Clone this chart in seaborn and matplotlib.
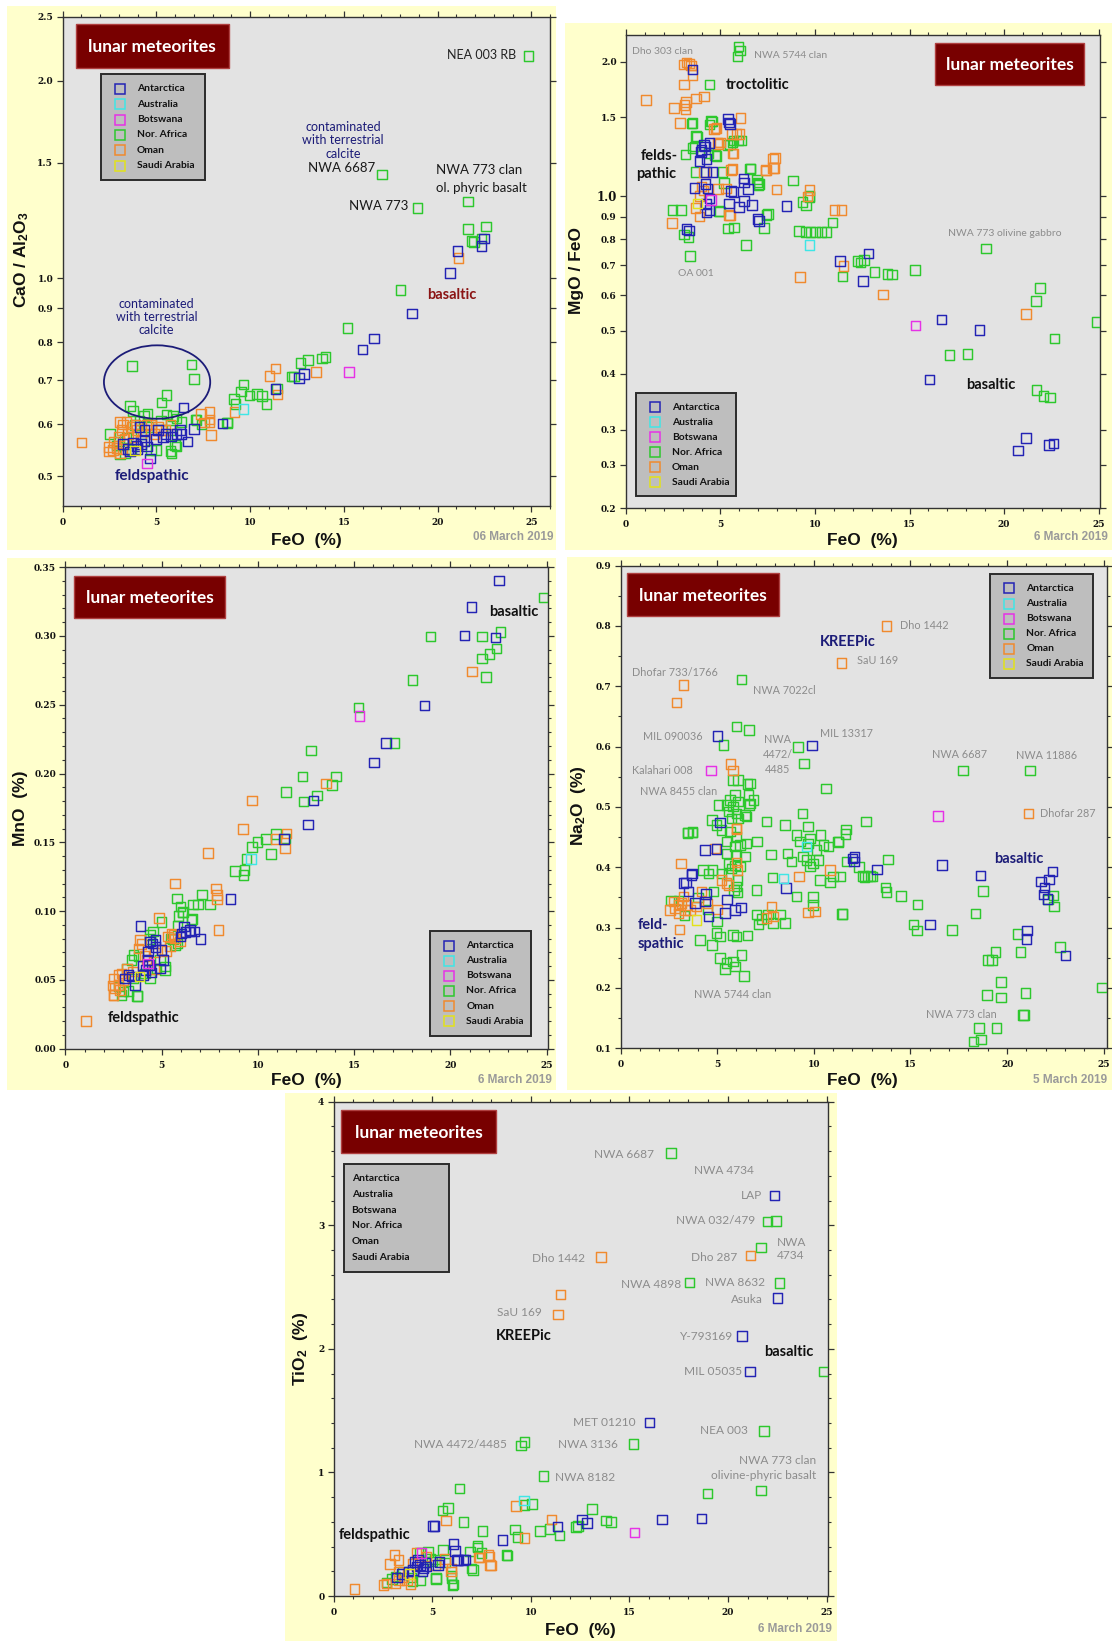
import numpy as np
import pandas as pd
import matplotlib
matplotlib.use("Agg")
import matplotlib.pyplot as plt
import seaborn as sns
from matplotlib.patches import Rectangle, Ellipse
from matplotlib.lines import Line2D
from matplotlib.ticker import MultipleLocator, NullLocator

# ---------------- data (FeO %, value) per panel and region ----------------
REGIONS = ["Antarctica", "Australia", "Botswana", "Nor. Africa", "Oman", "Saudi Arabia"]
COLORS = {"Antarctica": "#2323B4", "Australia": "#3FE6E6", "Botswana": "#E632E6",
          "Nor. Africa": "#2DC82D", "Oman": "#F08A2E", "Saudi Arabia": "#E2E21A"}
DRAW_ORDER = ["Nor. Africa", "Oman", "Antarctica", "Australia", "Botswana", "Saudi Arabia"]

# Panel 1: CaO/Al2O3
P1_ANT = [(22.49,1.15),(22.34,1.12),(21.06,1.10),(20.68,1.02),(18.63,0.885),(16.6,0.81),(16.01,0.78),
          (12.60,0.706),(12.89,0.716),(11.35,0.679),(8.54,0.602),(7.0,0.59),(6.67,0.565),(6.46,0.636),
          (6.26,0.588),(6.08,0.58),(6.35,0.58),(4.66,0.532),(3.24,0.56),(3.5,0.55),(3.94,0.556),(4.2,0.56),
          (4.38,0.566),(5.0,0.57),(5.35,0.574),(5.1,0.588),(4.38,0.588),(4.1,0.594),(3.77,0.563),(3.6,0.545),
          (4.0,0.55),(4.5,0.555),(5.5,0.58),(5.8,0.575)]
P1_AUS = [(9.66,0.633)]
P1_BOT = [(15.29,0.72),(4.52,0.523)]
P1_NAF = [(24.85,2.18),(17.05,1.44),(18.94,1.28),(21.63,1.31),(21.62,1.19),(22.59,1.20),(21.81,1.14),
          (21.96,1.135),(22.34,1.15),(18.02,0.96),(15.21,0.84),(14.03,0.76),(13.84,0.755),(13.08,0.752),
          (12.70,0.743),(12.22,0.709),(12.34,0.709),(9.66,0.69),(9.52,0.673),(9.14,0.655),(9.98,0.664),
          (10.36,0.667),(10.65,0.663),(10.89,0.644),(9.22,0.644),(11.43,0.68),(8.76,0.604),(7.09,0.61),
          (3.71,0.736),(6.88,0.74),(7.0,0.703),(5.55,0.665),(5.27,0.648),(3.59,0.64),(3.77,0.629),(4.54,0.622),
          (4.36,0.618),(5.55,0.621),(5.9,0.618),(6.08,0.612),(8.8,0.603),(7.14,0.609),(7.41,0.60),(5.81,0.588),
          (5.81,0.542),(5.99,0.558),(4.98,0.548),(2.53,0.58),(2.88,0.557),(3.06,0.54),(3.32,0.542),(4.73,0.548),
          (5.75,0.546),(6.08,0.555),(3.68,0.548),(3.41,0.572),(4.1,0.608),(3.85,0.598),(4.56,0.594),(5.26,0.608),
          (6.35,0.605),(4.2,0.58),(3.0,0.565)]
P1_OMA = [(21.12,1.075),(11.35,0.73),(11.03,0.71),(13.52,0.72),(11.46,0.666),(9.18,0.626),(7.93,0.578),
          (7.83,0.626),(7.83,0.604),(7.55,0.604),(7.38,0.622),(7.85,0.61),(1.02,0.563),(2.49,0.545),(2.49,0.554),
          (2.71,0.564),(3.15,0.588),(3.24,0.599),(3.06,0.605),(3.41,0.605),(3.94,0.588),(4.73,0.588),(5.26,0.588),
          (5.5,0.588),(4.73,0.60),(4.47,0.598),(3.68,0.594),(3.5,0.58),(2.88,0.552),(3.06,0.543),(5.75,0.60),
          (5.1,0.594),(4.2,0.566),(3.77,0.574),(3.3,0.57),(3.0,0.575),(3.9,0.60),(4.9,0.58),(2.7,0.548),(3.2,0.55)]
P1_SAU = [(3.86,0.547)]

# Panel 2: MgO/FeO
P2_ANT = [(3.53,1.919),(5.4,1.49),(5.45,1.46),(5.5,1.45),(4.0,1.27),(4.18,1.29),(4.41,1.315),(4.14,1.301),
          (3.97,1.256),(4.26,1.21),(3.88,1.20),(4.24,1.133),(4.59,1.133),(6.22,1.095),(6.25,1.073),(6.46,1.037),
          (5.55,1.026),(5.69,1.022),(3.63,1.043),(4.32,1.04),(4.2,1.065),(4.41,0.988),(4.24,0.96),(4.41,0.93),
          (4.26,0.92),(5.46,0.963),(5.99,0.946),(6.25,0.976),(6.66,0.955),(6.95,0.888),(7.04,0.88),(3.21,0.844),
          (3.35,0.837),(8.5,0.95),(11.31,0.715),(12.84,0.744),(12.54,0.645),(16.69,0.529),(18.7,0.502),
          (16.05,0.388),(21.15,0.287),(20.74,0.269),(22.37,0.277),(22.62,0.279)]
P2_AUS = [(9.7,0.777)]
P2_BOT = [(15.32,0.513),(4.5,0.98)]
P2_NAF = [(5.96,2.163),(6.02,2.12),(5.91,2.055),(4.41,1.777),(3.53,1.456),(4.56,1.47),(4.41,1.448),(3.77,1.358),
          (5.7,1.333),(5.95,1.333),(6.1,1.333),(5.5,1.304),(3.62,1.29),(3.15,1.24),(4.37,1.25),(4.78,1.23),
          (3.47,1.455),(4.5,1.472),(5.63,1.32),(5.37,1.30),(3.71,1.363),(3.53,1.283),(4.72,1.235),(3.71,1.133),
          (5.11,1.133),(6.55,1.149),(6.58,1.152),(8.83,1.084),(6.96,1.074),(7.05,1.064),(9.71,0.995),(9.34,0.971),
          (9.53,0.953),(9.7,1.0),(5.2,1.07),(6.93,1.09),(7.0,1.06),(4.93,0.927),(7.52,0.911),(7.43,0.907),
          (7.31,0.849),(5.41,0.847),(5.73,0.85),(2.47,0.93),(2.9,0.93),(3.08,0.82),(3.3,0.81),(3.39,0.735),
          (6.34,0.777),(9.15,0.835),(9.5,0.83),(9.77,0.83),(10.03,0.83),(10.35,0.83),(10.6,0.83),(10.93,0.873),
          (12.26,0.715),(12.4,0.71),(12.6,0.72),(11.46,0.66),(13.15,0.676),(13.84,0.669),(14.08,0.668),
          (15.28,0.683),(19.04,0.763),(17.12,0.441),(18.06,0.443),(21.9,0.623),(21.68,0.583),(22.67,0.48),
          (24.9,0.523),(21.72,0.368),(22.09,0.357),(22.43,0.354),(4.97,0.924)]
P2_OMA = [(3.06,1.973),(3.2,1.99),(3.35,1.98),(3.43,1.96),(3.53,1.867),(3.06,1.777),(1.05,1.641),(2.55,1.576),
          (3.19,1.626),(3.71,1.653),(4.13,1.672),(3.15,1.567),(3.1,1.6),(2.87,1.456),(6.06,1.497),(4.74,1.416),
          (4.8,1.42),(5.6,1.378),(5.85,1.378),(6.0,1.378),(4.84,1.32),(4.97,1.32),(5.68,1.245),(7.88,1.216),
          (7.84,1.157),(7.37,1.14),(5.63,1.15),(7.97,1.035),(9.7,1.032),(11.03,0.932),(11.4,0.932),(5.5,0.905),
          (4.67,1.412),(4.89,1.31),(5.63,1.246),(4.14,1.133),(5.55,1.145),(7.4,1.144),(7.78,1.157),(7.78,1.214),
          (4.88,1.037),(5.29,1.04),(3.9,1.0),(4.0,1.05),(4.1,1.03),(5.46,0.907),(3.68,0.94),(3.88,0.90),
          (2.44,0.871),(9.21,0.659),(11.5,0.697),(13.6,0.602),(21.17,0.544),(9.6,0.997)]
P2_SAU = [(3.79,0.963)]

# Panel 3: MnO
P3_ANT = [(22.53,0.3405),(21.1,0.3212),(20.73,0.3005),(22.35,0.299),(18.65,0.2494),(16.65,0.2223),(16.04,0.208),
          (12.9,0.1803),(12.6,0.163),(11.36,0.1522),(8.57,0.1089),(3.9,0.0891),(6.16,0.0889),(6.25,0.0846),
          (6.44,0.0851),(6.72,0.0851),(7.03,0.0796),(5.98,0.0816),(6.48,0.0862),(6.03,0.0838),(4.69,0.0737),
          (5.0,0.0717),(4.4,0.0777),(4.69,0.079),(4.52,0.0765),(4.3,0.0705),(4.27,0.0644),(4.34,0.0608),
          (4.17,0.0572),(4.48,0.0552),(4.91,0.0583),(5.09,0.0644),(4.06,0.0535),(3.27,0.0535),(3.1,0.0511),
          (3.44,0.0523),(3.62,0.0463),(4.0,0.06)]
P3_AUS = [(9.65,0.138)]
P3_BOT = [(15.29,0.2419),(4.3,0.062)]
P3_NAF = [(24.85,0.328),(18.97,0.2995),(21.66,0.2995),(22.62,0.303),(22.4,0.291),(22.03,0.287),(21.66,0.2837),
          (21.85,0.27),(18.04,0.268),(15.22,0.248),(17.11,0.2223),(12.75,0.2166),(12.32,0.198),(14.05,0.198),
          (13.86,0.1915),(12.38,0.1798),(13.08,0.184),(11.45,0.1865),(10.95,0.156),(11.4,0.1527),(10.43,0.1522),
          (9.97,0.1502),(9.69,0.1467),(9.41,0.138),(9.31,0.1297),(8.8,0.129),(10.67,0.1415),(9.25,0.1262),
          (7.09,0.1122),(6.9,0.1047),(7.52,0.1047),(6.63,0.1047),(5.79,0.1092),(5.98,0.1034),(6.1,0.0992),
          (6.59,0.0941),(5.83,0.0891),(5.88,0.0964),(4.99,0.0921),(4.55,0.0851),(4.36,0.0796),(5.83,0.0764),
          (5.6,0.0796),(6.08,0.099),(6.56,0.0935),(4.4,0.0826),(4.91,0.0644),(5.17,0.0596),(5.17,0.0572),
          (4.74,0.0583),(3.53,0.068),(3.44,0.0644),(3.79,0.0668),(2.75,0.045),(3.01,0.0415),(3.27,0.042),
          (2.92,0.039),(3.75,0.0384),(4.39,0.0511),(4.13,0.0547),(3.53,0.0511),(3.71,0.0383),(5.5,0.08),
          (5.7,0.075),(3.2,0.058)]
P3_OMA = [(21.14,0.274),(13.53,0.1928),(9.69,0.1805),(9.22,0.1597),(11.5,0.1565),(10.95,0.1522),(11.4,0.1455),
          (7.41,0.1422),(5.7,0.1202),(7.83,0.1164),(7.87,0.1117),(7.87,0.1084),(7.96,0.0864),(4.86,0.0951),
          (5.51,0.0834),(5.33,0.0814),(5.61,0.0826),(5.69,0.0802),(5.95,0.0778),(5.44,0.0741),(5.26,0.0709),
          (5.0,0.0717),(4.66,0.07),(3.96,0.0762),(3.79,0.0729),(3.87,0.079),(4.22,0.0644),(4.1,0.0673),
          (3.19,0.0584),(2.92,0.0547),(2.75,0.0535),(2.49,0.0511),(2.58,0.044),(2.75,0.0463),(3.01,0.05),
          (2.49,0.039),(2.84,0.0426),(2.51,0.039),(2.47,0.0458),(1.06,0.02),(3.5,0.056),(4.6,0.058)]
P3_SAU = [(3.84,0.0523)]

# Panel 4: Na2O
P4_ANT = [(5.01,0.6175),(9.9,0.602),(16.62,0.4036),(13.26,0.3961),(12.1,0.4167),(12.07,0.4093),(11.99,0.4148),
          (16.01,0.3049),(18.62,0.3865),(21.75,0.3762),(21.94,0.3665),(22.16,0.3796),(22.34,0.3933),(21.88,0.355),
          (22.09,0.3475),(21.02,0.2951),(21.0,0.2809),(23.02,0.2541),(5.14,0.4744),(4.37,0.4286),(4.97,0.4303),
          (8.56,0.3652),(3.68,0.3872),(3.25,0.3735),(3.51,0.3597),(3.85,0.3404),(4.42,0.3558),(4.37,0.3431),
          (4.54,0.3183),(5.52,0.3469),(5.92,0.3293),(6.22,0.3337),(5.4,0.3243),(3.4,0.375),(3.7,0.39)]
P4_AUS = [(9.63,0.4341),(8.42,0.3817)]
P4_BOT = [(4.68,0.5605),(16.42,0.4846)]
P4_NAF = [(6.25,0.711),(5.32,0.6027),(6.0,0.633),(6.66,0.627),(9.19,0.599),(9.5,0.572),(17.72,0.5605),
          (21.17,0.5605),(10.64,0.5302),(12.71,0.476),(11.67,0.4623),(11.28,0.4418),(13.85,0.413),(12.34,0.4007),
          (12.77,0.3847),(13.04,0.3847),(12.62,0.3836),(13.72,0.3665),(13.76,0.3591),(14.51,0.3522),(15.37,0.338),
          (15.15,0.3049),(15.33,0.2951),(17.15,0.2963),(11.48,0.3225),(18.76,0.3608),(18.36,0.3237),(22.12,0.3465),
          (22.39,0.3533),(22.43,0.3351),(20.54,0.2894),(20.69,0.2598),(22.74,0.2678),(24.91,0.201),(19.41,0.2598),
          (19.0,0.2466),(19.22,0.2466),(19.68,0.2096),(19.68,0.1839),(18.95,0.1879),(20.96,0.1913),(20.87,0.1553),
          (20.82,0.1548),(18.54,0.1337),(19.46,0.1337),(18.64,0.1143),(18.27,0.1114),
          (5.83,0.5446),(6.09,0.5446),(6.69,0.5391),(5.92,0.5197),(5.66,0.5114),(6.09,0.5087),(6.61,0.5197),
          (6.69,0.5059),(6.87,0.5114),(5.49,0.5031),(5.06,0.5031),(5.83,0.5004),(5.58,0.4921),(6.0,0.4893),
          (6.44,0.4866),(6.09,0.481),(5.75,0.481),(6.52,0.4838),(4.72,0.4783),(4.97,0.47),(5.23,0.4617),
          (5.66,0.459),(6.0,0.4507),(6.18,0.4369),(6.52,0.4396),(3.47,0.4566),(3.73,0.4583),(7.56,0.4755),
          (7.07,0.4424),(8.5,0.47),(9.42,0.4893),(9.71,0.4672),(9.11,0.4534),(10.35,0.4534),(9.8,0.4479),
          (9.28,0.4424),(9.71,0.4396),(11.64,0.455),(10.14,0.4286),(10.49,0.4369),(10.75,0.4341),(11.26,0.4424),
          (10.23,0.4121),(9.45,0.4176),(9.63,0.4121),(9.8,0.401),(9.97,0.4066),(8.85,0.4093),(11.69,0.4093),
          (12.55,0.3856),(12.93,0.3856),(11.0,0.3845),(10.31,0.379),(10.83,0.3746),(11.35,0.3845),(8.64,0.4231),
          (7.78,0.4214),(7.87,0.3828),(9.11,0.3514),(9.97,0.3503),(9.97,0.3376),(11.47,0.3225),(7.04,0.3624),
          (5.49,0.4424),(5.92,0.4342),(5.49,0.4231),(6.0,0.4204),(6.44,0.4176),(6.18,0.4011),(5.75,0.3983),
          (5.58,0.4066),(5.92,0.4027),(4.28,0.3955),(4.54,0.39),(4.77,0.3955),(5.23,0.39),(5.58,0.3872),
          (6.04,0.379),(6.0,0.368),(5.87,0.3624),(6.04,0.358),(4.11,0.2798),(4.72,0.2715),(4.97,0.2908),
          (5.14,0.2853),(5.83,0.288),(6.0,0.2853),(6.56,0.2869),(5.14,0.2495),(5.49,0.2412),(5.83,0.244),
          (5.92,0.2357),(5.4,0.2313),(6.27,0.255),(6.39,0.22),(7.04,0.3215),(7.64,0.3215),(7.3,0.3143),
          (8.25,0.3215),(8.5,0.3076),(7.13,0.3049),(7.9,0.3076),(6.57,0.5377),(6.66,0.5034),(3.49,0.4578),
          (3.72,0.4578),(4.0,0.35),(4.5,0.33),(5.0,0.31),(3.0,0.345),(3.3,0.32),(4.8,0.36),(2.6,0.345)]
P4_OMA = [(13.76,0.80),(11.43,0.7385),(3.26,0.702),(2.9,0.673),(21.11,0.489),(6.0,0.4634),(10.83,0.3955),
          (9.23,0.3845),(9.71,0.3247),(10.06,0.3264),(6.04,0.3955),(4.88,0.4314),(3.13,0.4066),(5.23,0.379),
          (5.49,0.3735),(5.58,0.3707),(2.56,0.3293),(2.82,0.332),(2.99,0.3376),(3.16,0.3404),(3.34,0.3293),
          (2.99,0.3237),(2.73,0.3431),(3.25,0.3514),(3.42,0.3376),(3.6,0.3293),(3.94,0.3348),(3.04,0.2972),
          (7.81,0.3348),(7.9,0.3183),(7.56,0.3156),(5.69,0.5712),(5.83,0.5605),(6.01,0.4646),(6.01,0.4075),
          (4.2,0.36),(4.5,0.34),(5.0,0.33)]
P4_SAU = [(3.94,0.313)]

# Panel 5: TiO2
P5_ANT = [(22.37,3.24),(22.52,2.41),(20.72,2.103),(21.12,1.816),(16.03,1.403),(8.57,0.453),(11.36,0.562),
          (12.59,0.62),(12.86,0.591),(16.65,0.62),(18.66,0.628),(5.04,0.565),(5.11,0.565),(6.7,0.296),(6.25,0.29),
          (6.07,0.419),(3.21,0.151),(3.47,0.178),(4.04,0.21),(4.21,0.237),(4.38,0.25),(4.55,0.224),(4.72,0.237),
          (4.13,0.277),(4.29,0.291),(4.63,0.27),(5.3,0.25),(5.38,0.277),(6.3,0.291),(6.16,0.363),(6.58,0.291),
          (3.8,0.2),(4.5,0.2)]
P5_AUS = [(9.66,0.772)]
P5_BOT = [(15.27,0.514),(4.46,0.35)]
P5_NAF = [(17.12,3.584),(22.01,3.03),(22.43,3.036),(21.67,2.82),(18.06,2.537),(22.61,2.531),(24.86,1.816),
          (21.83,1.337),(9.51,1.217),(9.69,1.245),(15.22,1.231),(21.67,0.855),(18.97,0.829),(10.65,0.97),
          (6.38,0.869),(5.8,0.712),(5.53,0.692),(6.58,0.597),(7.55,0.528),(7.3,0.405),(9.69,0.735),(10.05,0.743),
          (9.2,0.539),(9.33,0.476),(10.47,0.528),(10.96,0.542),(11.45,0.49),(12.3,0.56),(12.4,0.568),(13.1,0.706),
          (13.82,0.611),(14.06,0.597),(8.82,0.327),(7.07,0.212),(6.03,0.089),(5.98,0.146),(5.2,0.146),(2.69,0.11),
          (2.96,0.137),(3.13,0.156),(4.38,0.35),(4.8,0.356),(4.89,0.3),(5.0,0.28),(5.14,0.295),(5.56,0.373),
          (5.65,0.273),(5.99,0.164),(6.07,0.092),(5.19,0.137),(4.38,0.124),(3.96,0.151),(6.92,0.359),(7.0,0.224),
          (7.31,0.394),(7.51,0.35),(8.77,0.332),(3.5,0.2),(4.0,0.12)]
P5_OMA = [(21.14,2.755),(13.57,2.743),(11.5,2.439),(11.38,2.278),(5.71,0.611),(9.24,0.729),(9.69,0.47),
          (11.05,0.62),(7.97,0.247),(7.88,0.318),(7.34,0.31),(1.05,0.055),(3.08,0.332),(3.28,0.291),(2.86,0.259),
          (2.52,0.089),(2.69,0.1),(3.13,0.1),(3.33,0.124),(3.55,0.151),(3.72,0.124),(3.89,0.097),(4.21,0.35),
          (4.72,0.32),(5.14,0.25),(5.65,0.3),(5.99,0.224),(5.95,0.197),(7.85,0.332),(7.94,0.25),(7.43,0.313),
          (3.3,0.2),(4.0,0.26)]
P5_SAU = [(3.84,0.178)]

# ---------------- styling ----------------
W, H = 1112, 1641
YELLOW = "#FFFFCC"
AXBG = "#E3E3E3"
GRAY_TXT = "#8C8C8C"
NAVY = "#1C1C78"
ANN = "Lato"
SANS = "Liberation Sans"
MS = 47
LW = 1.05

sns.set_style("ticks")
plt.rcParams["font.family"] = ["DejaVu Serif"]
plt.rcParams["mathtext.fontset"] = "custom"
plt.rcParams["mathtext.rm"] = "Liberation Sans:bold"
plt.rcParams["mathtext.it"] = "Liberation Sans:bold"
plt.rcParams["mathtext.bf"] = "Liberation Sans:bold"
plt.rcParams["mathtext.default"] = "rm"

fig = plt.figure(figsize=(W / 100, H / 100), dpi=100, facecolor="white")


def ftext(x, y, s, **kw):
    kw.setdefault("ha", "left")
    kw.setdefault("va", "center")
    return fig.text(x / W, 1 - y / H, s, **kw)


def frect(x0, y0, x1, y1, **kw):
    r = Rectangle((x0 / W, 1 - y1 / H), (x1 - x0) / W, (y1 - y0) / H, transform=fig.transFigure, **kw)
    fig.add_artist(r)
    return r


def make_axes(l, r, t, b):
    return fig.add_axes([l / W, 1 - b / H, (r - l) / W, (b - t) / H])


def scatter_groups(ax, groups):
    for name in DRAW_ORDER:
        pts = groups.get(name, [])
        if not pts:
            continue
        df = pd.DataFrame(pts, columns=["FeO", "val"])
        sns.scatterplot(data=df, x="FeO", y="val", ax=ax, marker="s", s=MS, color=COLORS[name],
                        facecolor="none", edgecolor=COLORS[name], linewidth=LW, legend=False, zorder=3)
    ax.set_xlabel("")
    ax.set_ylabel("")


def style(ax):
    ax.set_facecolor(AXBG)
    for sp in ax.spines.values():
        sp.set_color("#333333")
        sp.set_linewidth(1.0)
    ax.tick_params(which="both", direction="out", top=True, right=True, colors="#333333", labelcolor="#111111")
    ax.tick_params(which="major", length=4.2, width=0.9, labelsize=6.5)
    ax.tick_params(which="minor", length=2.4, width=0.8)
    ax.tick_params(axis="x", which="major", pad=4.5)
    ax.tick_params(axis="y", which="major", pad=2.5)
    for lab in ax.get_xticklabels() + ax.get_yticklabels():
        lab.set_fontweight("bold")


def title_box(x0, y0, x1, y1):
    frect(x0, y0, x1, y1, facecolor="#780000", edgecolor="#B04040", lw=1.0, zorder=5)
    ftext((x0 + x1) / 2, (y0 + y1) / 2 + 1, "lunar meteorites", ha="center", color="white",
          family=ANN, weight="bold", size=12.5, zorder=6)


def legend_box(x0, y0, x1, y1, markers=True):
    frect(x0, y0, x1, y1, facecolor="#BEBEBE", edgecolor="#2B2B2B", lw=1.4, zorder=5)
    h = y1 - y0
    first = y0 + h * 0.138
    pitch = h * 0.145
    for i, name in enumerate(REGIONS):
        yy = first + i * pitch
        if markers:
            fig.add_artist(Line2D([(x0 + 19) / W], [1 - yy / H], transform=fig.transFigure, marker="s", ms=7,
                                  mfc="none", mec=COLORS[name], mew=1.1, ls="none", zorder=6))
            tx = x0 + 36
        else:
            tx = x0 + 8
        ftext(tx, yy, name, family=ANN, weight="bold", size=7.4, color="#111111", zorder=6)


def date_text(x, y, s):
    ftext(x, y, s, ha="right", family=SANS, weight="bold", size=8.5, color="#9A9A9A")


def xlab(x, y):
    ftext(x, y, "FeO  (%)", ha="center", family=SANS, weight="bold", size=12.5, color="#111111")


def ylab(x, y, s):
    ftext(x, y, s, ha="center", rotation=90, family=SANS, weight="bold", size=12.5, color="#111111")


# yellow panel backgrounds
for (x0, y0, x1, y1) in [(7, 6, 556, 550), (565, 23, 1112, 550), (7, 558, 556, 1090),
                         (567, 557, 1112, 1090), (285, 1093, 837, 1641)]:
    frect(x0, y0, x1, y1, facecolor=YELLOW, edgecolor="none", zorder=-10)

# ---------------- Panel 1 ----------------
ax1 = make_axes(62.5, 550, 16.8, 506.4)
scatter_groups(ax1, {"Antarctica": P1_ANT, "Australia": P1_AUS, "Botswana": P1_BOT,
                     "Nor. Africa": P1_NAF, "Oman": P1_OMA, "Saudi Arabia": P1_SAU})
ax1.set_yscale("log")
t1 = [0.5, 0.6, 0.7, 0.8, 0.9, 1.0, 1.5, 2.0, 2.5]
ax1.set_yticks(t1, [f"{v:.1f}" for v in t1])
ax1.yaxis.set_minor_locator(NullLocator())
ax1.set_ylim(0.45, 2.5)
ax1.set_xlim(0, 26)
ax1.xaxis.set_major_locator(MultipleLocator(5))
ax1.xaxis.set_minor_locator(MultipleLocator(1))
style(ax1)
ax1.add_patch(Ellipse((0.194, 0.254), 0.218, 0.150, transform=ax1.transAxes, fill=False,
                      edgecolor="#1C1C78", lw=1.3, zorder=4))
title_box(75.7, 24.3, 228.6, 67.9)
legend_box(101, 74, 204.6, 180.4)
ftext(516, 55.4, "NEA 003 RB", ha="right", family=ANN, size=9, color="#222222")
for yy, s in [(126.8, "contaminated"), (140.2, "with terrestrial"), (153.6, "calcite")]:
    ftext(342.9, yy, s, ha="center", family=ANN, size=9, color=NAVY)
ftext(375, 167.9, "NWA 6687", ha="right", family=ANN, size=9.5, color="#1A1A1A")
ftext(408, 206, "NWA 773", ha="right", family=ANN, size=9.5, color="#1A1A1A")
ftext(436, 169.6, "NWA 773 clan", family=ANN, size=9.5, color="#1A1A1A")
ftext(436, 188.2, "ol. phyric basalt", family=ANN, size=9.5, color="#1A1A1A")
ftext(426.8, 294.6, "basaltic", family=ANN, weight="bold", size=10.5, color="#8B1414")
for yy, s in [(304.3, "contaminated"), (317.3, "with terrestrial"), (330.4, "calcite")]:
    ftext(156.4, yy, s, ha="center", family=ANN, size=9, color=NAVY)
ftext(151.8, 476, "feldspathic", ha="center", family=ANN, weight="bold", size=11, color=NAVY)
date_text(553.6, 537, "06 March 2019")
xlab(306.4, 541)
ylab(22, 260, "CaO / Al$_2$O$_3$")

# ---------------- Panel 2 ----------------
ax2 = make_axes(625.9, 1099.6, 34.6, 508.2)
scatter_groups(ax2, {"Antarctica": P2_ANT, "Australia": P2_AUS, "Botswana": P2_BOT,
                     "Nor. Africa": P2_NAF, "Oman": P2_OMA, "Saudi Arabia": P2_SAU})
ax2.set_yscale("log")
t2 = [0.2, 0.25, 0.3, 0.4, 0.5, 0.6, 0.7, 0.8, 0.9, 1.0, 1.5, 2.0]
l2 = ["0.2", "0.3", "0.3", "0.4", "0.5", "0.6", "0.7", "0.8", "0.9", "1.0", "1.5", "2.0"]
ax2.set_yticks(t2, l2)
ax2.yaxis.set_minor_locator(NullLocator())
ax2.set_ylim(0.2, 2.3)
ax2.set_xlim(0, 25.05)
ax2.xaxis.set_major_locator(MultipleLocator(5))
ax2.xaxis.set_minor_locator(MultipleLocator(1))
style(ax2)
ax2.get_yticklabels()[9].set_fontsize(8.5)
title_box(935.4, 42.9, 1084.4, 84.6)
legend_box(635.8, 392.9, 736.1, 496.4)
ftext(632.2, 51, "Dho 303 clan", family=ANN, size=7.5, color=GRAY_TXT)
ftext(753.9, 56, "NWA 5744 clan", family=ANN, size=7.5, color=GRAY_TXT)
ftext(725.5, 85, "troctolitic", family=ANN, weight="bold", size=10.5, color="#111111")
ftext(641, 156.4, "felds-", family=ANN, weight="bold", size=10.5, color="#111111")
ftext(635.8, 174, "pathic", family=ANN, weight="bold", size=10.5, color="#111111")
ftext(678.3, 273, "OA 001", family=ANN, size=7.5, color=GRAY_TXT)
ftext(947.8, 234, "NWA 773 olivine gabbro", family=ANN, size=7.5, color=GRAY_TXT)
ftext(966.6, 385, "basaltic", family=ANN, weight="bold", size=10.5, color="#111111")
date_text(1107.4, 537.5, "6 March 2019")
xlab(862.7, 541)
ylab(577, 271, "MgO / FeO")

# ---------------- Panel 3 ----------------
ax3 = make_axes(65.4, 547.5, 567.2, 1048.6)
scatter_groups(ax3, {"Antarctica": P3_ANT, "Australia": P3_AUS, "Botswana": P3_BOT,
                     "Nor. Africa": P3_NAF, "Oman": P3_OMA, "Saudi Arabia": P3_SAU})
ax3.set_xlim(0, 25.05)
ax3.set_ylim(0, 0.35)
ax3.xaxis.set_major_locator(MultipleLocator(5))
ax3.xaxis.set_minor_locator(MultipleLocator(1))
ax3.yaxis.set_major_locator(MultipleLocator(0.05))
ax3.yaxis.set_minor_locator(MultipleLocator(0.01))
ax3.yaxis.set_major_formatter(matplotlib.ticker.FormatStrFormatter("%.2f"))
style(ax3)
title_box(74.3, 575.8, 225, 617.8)
legend_box(430.4, 931.2, 531.4, 1035.5)
ax3.text(22.0, 0.3174, "basaltic", ha="left", va="center", family=ANN, weight="bold", size=10.5, color="#111111")
ax3.text(2.22, 0.022, "feldspathic", ha="left", va="center", family=ANN, weight="bold", size=10.5, color="#111111")
date_text(551.8, 1079.6, "6 March 2019")
xlab(306.4, 1081)
ylab(21, 808, "MnO  (%)")

# ---------------- Panel 4 ----------------
ax4 = make_axes(620.5, 1106.7, 565.5, 1048.3)
scatter_groups(ax4, {"Antarctica": P4_ANT, "Australia": P4_AUS, "Botswana": P4_BOT,
                     "Nor. Africa": P4_NAF, "Oman": P4_OMA, "Saudi Arabia": P4_SAU})
ax4.set_xlim(0, 25.15)
ax4.set_ylim(0.1, 0.9)
ax4.xaxis.set_major_locator(MultipleLocator(5))
ax4.xaxis.set_minor_locator(MultipleLocator(1))
ax4.yaxis.set_major_locator(MultipleLocator(0.1))
ax4.yaxis.set_minor_locator(MultipleLocator(0.05))
ax4.yaxis.set_major_formatter(matplotlib.ticker.FormatStrFormatter("%.1f"))
style(ax4)
title_box(626.9, 573.4, 778.7, 616.1)
legend_box(990.4, 574.1, 1092.5, 678.1)


def g4(x, y, s, ha="left"):
    ax4.text(x, y, s, ha=ha, va="center", family=ANN, size=7.8, color=GRAY_TXT)


g4(14.45, 0.800, "Dho 1442")
g4(12.25, 0.743, "SaU 169")
g4(0.6, 0.723, "Dhofar 733/1766")
g4(6.84, 0.693, "NWA 7022cl")
g4(4.24, 0.616, "MIL 090036", ha="right")
g4(8.13, 0.612, "NWA", ha="center")
g4(8.13, 0.587, "4472/", ha="center")
g4(8.13, 0.562, "4485", ha="center")
g4(10.33, 0.6215, "MIL 13317")
g4(3.72, 0.560, "Kalahari 008", ha="right")
g4(1.01, 0.525, "NWA 8455 clan")
g4(16.1, 0.587, "NWA 6687")
g4(20.47, 0.585, "NWA 11886")
g4(21.7, 0.489, "Dhofar 287")
g4(3.82, 0.1896, "NWA 5744 clan")
g4(15.79, 0.1553, "NWA 773 clan")
ax4.text(10.33, 0.773, "KREEPic", ha="left", va="center", family=ANN, weight="bold", size=10.5, color=NAVY)
ax4.text(19.31, 0.413, "basaltic", ha="left", va="center", family=ANN, weight="bold", size=10.5, color=NAVY)
ax4.text(0.88, 0.304, "feld-", ha="left", va="center", family=ANN, weight="bold", size=10.5, color=NAVY)
ax4.text(0.88, 0.2735, "spathic", ha="left", va="center", family=ANN, weight="bold", size=10.5, color=NAVY)
date_text(1107.4, 1080.3, "5 March 2019")
xlab(862.7, 1080.5)
ylab(578, 806, "Na$_2$O  (%)")

# ---------------- Panel 5 ----------------
ax5 = make_axes(333.6, 827.5, 1101.7, 1596)
scatter_groups(ax5, {"Antarctica": P5_ANT, "Australia": P5_AUS, "Botswana": P5_BOT,
                     "Nor. Africa": P5_NAF, "Oman": P5_OMA, "Saudi Arabia": P5_SAU})
ax5.set_xlim(0, 25.05)
ax5.set_ylim(0, 4)
ax5.xaxis.set_major_locator(MultipleLocator(5))
ax5.xaxis.set_minor_locator(MultipleLocator(1))
ax5.yaxis.set_major_locator(MultipleLocator(1))
ax5.yaxis.set_minor_locator(MultipleLocator(0.2))
style(ax5)
title_box(341.4, 1109.8, 496, 1153.4)
legend_box(343.6, 1163.7, 449.3, 1271.9, markers=False)


def g5(x, y, s, ha="right"):
    ax5.text(x, y, s, ha=ha, va="center", family=ANN, size=8.6, color=GRAY_TXT)


g5(16.27, 3.575, "NWA 6687")
g5(18.26, 3.44, "NWA 4734", ha="left")
g5(21.74, 3.24, "LAP")
g5(21.41, 3.036, "NWA 032/479")
g5(22.5, 2.864, "NWA", ha="left")
g5(22.5, 2.755, "4734", ha="left")
g5(20.47, 2.743, "Dho 287")
g5(12.77, 2.735, "Dho 1442")
g5(10.56, 2.298, "SaU 169")
g5(17.61, 2.519, "NWA 4898")
g5(21.88, 2.534, "NWA 8632")
g5(21.78, 2.399, "Asuka")
g5(20.25, 2.103, "Y-793169")
g5(20.74, 1.816, "MIL 05035")
g5(15.34, 1.403, "MET 01210")
g5(21.01, 1.343, "NEA 003")
g5(8.79, 1.228, "NWA 4472/4485")
g5(14.4, 1.222, "NWA 3136")
g5(24.46, 1.099, "NWA 773 clan")
g5(24.46, 0.973, "olivine-phyric basalt")
g5(11.23, 0.956, "NWA 8182", ha="left")
ax5.text(9.66, 2.106, "KREEPic", ha="center", va="center", family=ANN, weight="bold", size=10.5, color="#111111")
ax5.text(23.1, 1.977, "basaltic", ha="center", va="center", family=ANN, weight="bold", size=10.5, color="#111111")
ax5.text(0.27, 0.496, "feldspathic", ha="left", va="center", family=ANN, weight="bold", size=10.5, color="#111111")
date_text(831.8, 1629.3, "6 March 2019")
xlab(580, 1630)
ylab(300, 1349, "TiO$_2$  (%)")

fig.savefig("out.png", dpi=100, facecolor="white")
